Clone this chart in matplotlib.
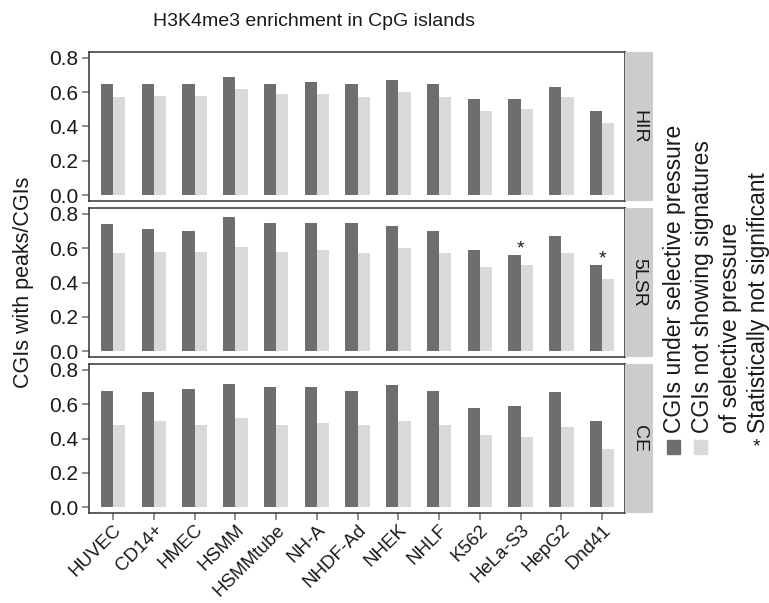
import numpy as np
import matplotlib
matplotlib.use("Agg")
import matplotlib.pyplot as plt
from matplotlib.patches import Rectangle

plt.rcParams['font.family'] = ['Liberation Sans', 'DejaVu Sans']

# Daten
cell_lines = ['HUVEC', 'CD14+', 'HMEC', 'HSMM', 'HSMMtube', 'NH-A', 'NHDF-Ad',
              'NHEK', 'NHLF', 'K562', 'HeLa-S3', 'HepG2', 'Dnd41']
panels = ['HIR', '5LSR', 'CE']

hir_sel = [0.65, 0.65, 0.65, 0.69, 0.65, 0.66, 0.65, 0.67, 0.65, 0.56, 0.56, 0.63, 0.49]
hir_not = [0.57, 0.58, 0.58, 0.62, 0.59, 0.59, 0.57, 0.60, 0.57, 0.49, 0.50, 0.57, 0.42]
lsr_sel = [0.74, 0.71, 0.70, 0.78, 0.75, 0.75, 0.75, 0.73, 0.70, 0.59, 0.56, 0.67, 0.50]
lsr_not = [0.57, 0.58, 0.58, 0.61, 0.58, 0.59, 0.57, 0.60, 0.57, 0.49, 0.50, 0.57, 0.42]
ce_sel = [0.68, 0.67, 0.69, 0.72, 0.70, 0.70, 0.68, 0.71, 0.68, 0.58, 0.59, 0.67, 0.50]
ce_not = [0.48, 0.50, 0.48, 0.52, 0.48, 0.49, 0.48, 0.50, 0.48, 0.42, 0.41, 0.47, 0.34]

# nicht signifikant (nur 5LSR)
not_sig_5lsr = ['HeLa-S3', 'Dnd41']

sel_vals = [hir_sel, lsr_sel, ce_sel]
not_vals = [hir_not, lsr_not, ce_not]

dark = '#6e6e6e'
light = '#d9d9d9'
strip_col = '#cccccc'

W, H = 769, 603
fig = plt.figure(figsize=(W / 100, H / 100), dpi=100)

def fx(px):
    return px / W

def fy(py):
    return 1 - py / H

left, right, strip_r = 89, 625, 653
tops = [52, 208, 364]
ph = 149

x = np.arange(1, len(cell_lines) + 1)
bw = 0.3

for i, name in enumerate(panels):
    top = tops[i]
    ax = fig.add_axes([fx(left), fy(top + ph), fx(right - left), ph / H])
    ax.bar(x - bw / 2, sel_vals[i], bw, color=dark, edgecolor='none')
    ax.bar(x + bw / 2, not_vals[i], bw, color=light, edgecolor='none')
    ax.set_xlim(0.41, 13.56)
    ax.set_ylim(-0.035, 0.835)
    ax.set_yticks([0.0, 0.2, 0.4, 0.6, 0.8])
    ax.set_yticklabels(['0.0', '0.2', '0.4', '0.6', '0.8'])
    ax.set_xticks(x)
    ax.tick_params(axis='both', colors='#7a7a7a', length=5, width=1.2,
                   labelsize=15, labelcolor='#1a1a1a', pad=3)
    for s in ax.spines.values():
        s.set_color('#333333')
        s.set_linewidth(1.1)
    if i < 2:
        ax.tick_params(axis='x', length=0, labelbottom=False)
    else:
        ax.tick_params(axis='x', pad=1)
        ax.set_xticklabels(cell_lines, rotation=45, ha='right',
                           rotation_mode='anchor', fontsize=13.5)
    if name == '5LSR':
        for cl in not_sig_5lsr:
            k = cell_lines.index(cl)
            ax.text(x[k], sel_vals[i][k] + 0.01, '*', ha='center', va='baseline',
                    fontsize=14, color='#1a1a1a')

    sax = fig.add_axes([fx(right), fy(top + ph), fx(strip_r - right), ph / H])
    sax.set_facecolor(strip_col)
    sax.set_xticks([])
    sax.set_yticks([])
    for s in sax.spines.values():
        s.set_visible(False)
    sax.text(0.5, 0.5, name, rotation=270, ha='center', va='center',
             fontsize=14, color='#1a1a1a', transform=sax.transAxes)

# Titel und Achsenbeschriftung
fig.text(fx(314), fy(22), 'H3K4me3 enrichment in CpG islands', ha='center',
         va='center', fontsize=14, color='#1a1a1a')
fig.text(fx(24), fy(282), 'CGIs with peaks/CGIs', rotation=90, ha='center',
         va='center', fontsize=15.5, color='#1a1a1a')

# Legende (gedreht)
fig.patches.append(Rectangle((fx(667), fy(454)), fx(13), 14 / H, color=dark,
                             transform=fig.transFigure, figure=fig))
fig.patches.append(Rectangle((fx(694), fy(454)), fx(13), 14 / H, color=light,
                             transform=fig.transFigure, figure=fig))
fig.text(fx(756), fy(447), '*', ha='center', va='center', fontsize=14,
         color='#1a1a1a')
leg_txt = [(674, 'CGIs under selective pressure'),
           (702, 'CGIs not showing signatures'),
           (731, 'of selective pressure'),
           (758, 'Statistically not significant')]
for px, t in leg_txt:
    fig.text(fx(px), fy(433), t, rotation=90, ha='center', va='bottom',
             fontsize=16.5, color='#1a1a1a')

fig.savefig('out.png', dpi=100)
